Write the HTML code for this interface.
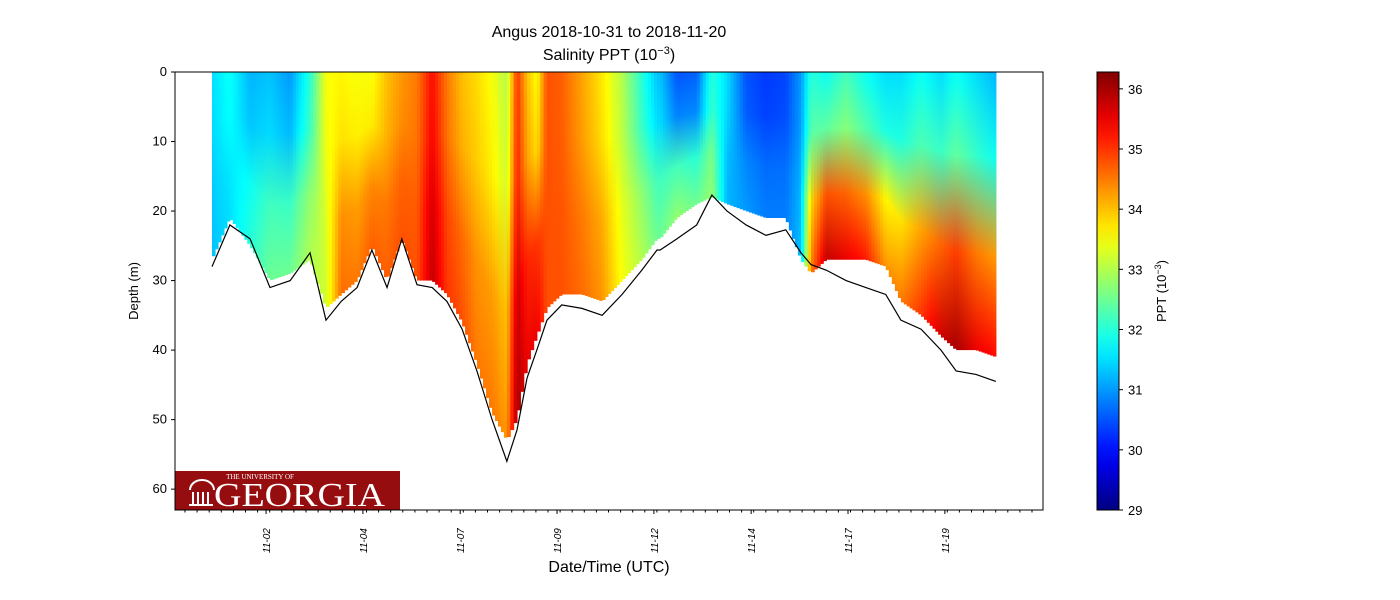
<!DOCTYPE html>
<html><head><meta charset="utf-8">
<style>
body{margin:0;background:#fff;}
svg{display:block;font-family:"Liberation Sans","DejaVu Sans",sans-serif;}
</style></head>
<body>
<svg id="chart" width="1400" height="600" viewBox="0 0 1400 600">
  <defs id="defs"></defs>
  <text x="609" y="37" font-size="16" text-anchor="middle">Angus 2018-10-31 to 2018-11-20</text>
  <text x="609" y="60" font-size="16" text-anchor="middle">Salinity PPT (10<tspan baseline-shift="super" font-size="11">−3</tspan>)</text>
  <g id="plot"></g>
  <g id="floor"></g>
  <g>
    <rect x="175" y="471" width="225" height="39" fill="#960d10"/>
    <g fill="none" stroke="#fff" stroke-width="2">
      <path d="M190 490 a12 10 0 0 1 24 0"/>
      <line x1="193" y1="492" x2="193" y2="504"/><line x1="198" y1="492" x2="198" y2="504"/>
      <line x1="203" y1="492" x2="203" y2="504"/><line x1="208" y1="492" x2="208" y2="504"/>
      <line x1="189" y1="505" x2="213" y2="505"/>
    </g>
    <text x="260" y="479" font-size="7" fill="#fff" font-family="Liberation Serif,serif" text-anchor="middle">THE UNIVERSITY OF</text>
    <text x="214" y="506" font-size="34" fill="#fff" font-family="Liberation Serif,serif" textLength="171" lengthAdjust="spacingAndGlyphs">GEORGIA</text>
  </g>
  <rect x="175" y="72" width="868" height="438" fill="none" stroke="#000" stroke-width="1"/>
  <g id="yaxis"></g>
  <g id="xaxis"></g>
  <text transform="translate(138,291) rotate(-90)" font-size="13" text-anchor="middle">Depth (m)</text>
  <text x="609" y="572" font-size="16" text-anchor="middle">Date/Time (UTC)</text>
  <g id="cbar"></g>
  <text transform="translate(1166,291) rotate(-90)" font-size="13" text-anchor="middle">PPT (10<tspan baseline-shift="super" font-size="9">−3</tspan>)</text>
</svg>
<script>
// Data: time (days since 2018-10-31 00:00), seafloor depth (m), data extent (m), salinity top/bottom
const days = [0.0,0.46,0.98,1.49,2.01,2.52,2.93,3.32,3.73,4.11,4.5,4.88,5.27,5.66,6.04,6.43,6.81,7.2,7.58,7.84,8.1,8.35,8.61,8.99,9.51,10.03,10.54,11.05,11.44,11.52,11.95,12.46,12.85,13.24,13.73,14.24,14.75,15.14,15.4,15.79,16.3,16.81,17.32,17.71,18.23,18.74,19.13,19.64,20.15];
const floorDepth = [28,22,24,31,30,26,35.7,33,31,25.6,31,24,30.6,31,33,37,43,50,56,51.5,44,40,35.7,33.5,34,35,32,28.5,25.6,25.6,24,22,17.7,20,22,23.5,22.7,26,27.7,28.5,30,31,32,35.7,37,40,43,43.5,44.5];
const dataDepth = [27,21,25,30,29,27,34,32,30,25,30,24,30,30,32,36,42,49,53,50,42,38,34,32,32,33,30,27,24,24,21,19,18,19,20,21,21,27,29,27,27,27,28,33,35,38,40,40,41];
const salTop = [31.5,31.8,31.2,31.3,31.0,32.0,33.5,33.6,33.5,33.5,34.0,34.3,34.5,35.3,34.5,34.0,33.8,33.5,33.0,35.0,34.0,33.5,34.8,34.7,34.2,33.7,33.0,32.0,31.3,31.3,30.5,30.6,32.0,31.5,30.5,30.3,30.4,31.0,32.0,31.8,32.2,31.8,31.5,31.5,31.8,31.5,31.8,31.5,31.2];
const salBot = [31.3,31.5,32.0,32.5,32.5,33.0,33.2,34.6,34.5,34.7,34.7,34.8,34.8,35.8,35.0,34.8,34.5,34.5,34.3,36.0,35.5,35.5,34.8,34.8,34.6,34.3,33.5,33.0,32.5,32.5,32.8,32.5,32.8,31.2,31.0,30.8,30.8,31.3,34.5,35.8,35.5,35.2,34.3,34.5,35.0,35.7,36.0,35.5,35.3];
const yTicks = [0,10,20,30,40,50,60];
const xTickLabels = ["11-02","11-04","11-07","11-09","11-12","11-14","11-17","11-19"];
const xTickDays = [1.39,3.88,6.38,8.87,11.36,13.86,16.35,18.84];
const cTicks = [29,30,31,32,33,34,35,36];

const X0=175,X1=1043,Y0=72,Y1=510;
const xs = d => 212 + d*38.9;
const ys = m => Y0 + m*(Y1-Y0)/63;
const CMIN=29, CMAX=36.28;
const cy = v => 510 - (v-CMIN)*(510-72)/(CMAX-CMIN);
function jet(t){t=Math.max(0,Math.min(1,t));
  const f=x=>Math.round(255*Math.max(0,Math.min(1,x)));
  return `rgb(${f(1.5-Math.abs(4*t-3))},${f(1.5-Math.abs(4*t-2))},${f(1.5-Math.abs(4*t-1))})`;}
const col = v => jet((v-CMIN)/(CMAX-CMIN));
const NS='http://www.w3.org/2000/svg';
function mk(tag,attrs,parent){const e=document.createElementNS(NS,tag);for(const k in attrs)e.setAttribute(k,attrs[k]);parent.appendChild(e);return e;}
const defs=document.getElementById('defs'), plot=document.getElementById('plot');

// render smoothly: thin strips, linear blend between neighbouring samples
let gid=0;
for(let i=0;i<days.length-1;i++){
  const xa=xs(days[i]), xb=xs(days[i+1]);
  const n=Math.max(1,Math.round((xb-xa)/3));
  for(let k=0;k<n;k++){
    const f=(k+0.5)/n;
    const st=salTop[i]+(salTop[i+1]-salTop[i])*f;
    const sb=salBot[i]+(salBot[i+1]-salBot[i])*f;
    const dd=dataDepth[i]+(dataDepth[i+1]-dataDepth[i])*f;
    const x=xa+(xb-xa)*k/n, w=(xb-xa)/n;
    const g=mk('linearGradient',{id:'g'+gid,x1:0,y1:0,x2:0,y2:1},defs);
    mk('stop',{offset:'0','stop-color':col(st)},g);
    mk('stop',{offset:'0.3','stop-color':col(st+(sb-st)*0.15)},g);
    mk('stop',{offset:'0.65','stop-color':col(st+(sb-st)*0.75)},g);
    mk('stop',{offset:'1','stop-color':col(sb)},g);
    const r=mk('rect',{x:x,y:Y0,width:w+0.6,height:ys(dd)-Y0,fill:`url(#g${gid})`},plot);
    
    
    gid++;
  }
}
const fl=document.getElementById('floor');
const pl=mk('polyline',{points:days.map((d,i)=>xs(d)+','+ys(floorDepth[i])).join(' '),fill:'none',stroke:'#000','stroke-width':1.2},fl);



const ya=document.getElementById('yaxis');
yTicks.forEach(v=>{const y=ys(v);
  mk('line',{x1:X0-4,x2:X0,y1:y,y2:y,stroke:'#000'},ya);
  const t=mk('text',{x:X0-8,y:y+4,'font-size':13,'text-anchor':'end'},ya);t.textContent=v;
  
  });
const xa=document.getElementById('xaxis');
for(let x=X0+10;x<X1;x+=12.1){mk('line',{x1:x,x2:x,y1:Y1,y2:Y1+2.5,stroke:'#000'},xa);}
xTickDays.forEach((d,i)=>{const x=xs(d);
  mk('line',{x1:x,x2:x,y1:Y1,y2:Y1+4,stroke:'#000'},xa);
  const t=mk('text',{transform:`translate(${x+4},${Y1+43}) rotate(-90)`,'font-size':10,'font-style':'italic'},xa);t.textContent=xTickLabels[i];
  
  });

const cb=document.getElementById('cbar');
const cg=mk('linearGradient',{id:'cbg',x1:0,y1:1,x2:0,y2:0},defs);
for(let k=0;k<=20;k++){mk('stop',{offset:k/20,'stop-color':jet(k/20)},cg);}
mk('rect',{x:1097,y:72,width:22,height:438,fill:'url(#cbg)',stroke:'#000','stroke-width':1},cb);
cTicks.forEach(v=>{const y=cy(v);
  mk('line',{x1:1119,x2:1123,y1:y,y2:y,stroke:'#000'},cb);
  const t=mk('text',{x:1128,y:y+5,'font-size':13},cb);t.textContent=v;
  
  });
</script>
</body></html>
